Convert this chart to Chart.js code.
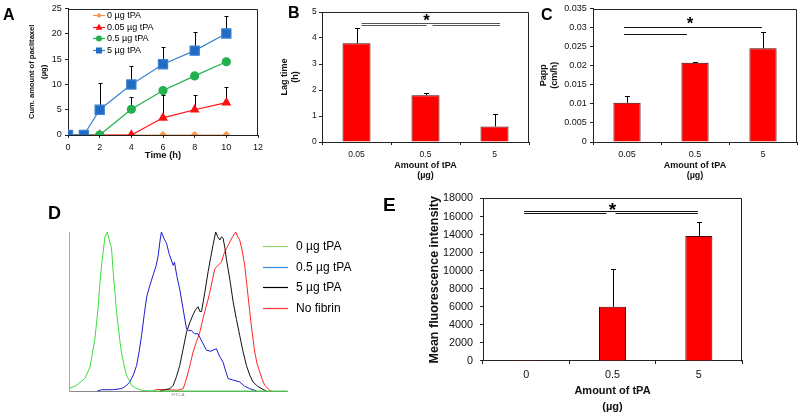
<!DOCTYPE html>
<html><head><meta charset="utf-8">
<script src="https://cdn.jsdelivr.net/npm/chart.js@4.4.1/dist/chart.umd.min.js"></script>
<style>
html,body{margin:0;padding:0;background:#fff;}
#wrap{position:relative;width:800px;height:415px;overflow:hidden;font-family:"Liberation Sans",Arial,sans-serif;}
canvas{position:absolute;display:block;}
.lbl{position:absolute;font-weight:bold;line-height:1;color:#000;font-family:"Liberation Sans",Arial,sans-serif;}
</style></head><body>
<div id="wrap">
  <canvas id="cA" width="270" height="180" style="left:0;top:0"></canvas>
  <canvas id="cB" width="270" height="185" style="left:270px;top:0"></canvas>
  <canvas id="cC" width="270" height="185" style="left:530px;top:0"></canvas>
  <canvas id="cD" width="430" height="225" style="left:0;top:190px"></canvas>
  <canvas id="cE" width="380" height="230" style="left:420px;top:185px"></canvas>
  <div class="lbl" style="left:3px;top:7px;font-size:16px">A</div>
  <div class="lbl" style="left:288px;top:5px;font-size:16px">B</div>
  <div class="lbl" style="left:541px;top:7px;font-size:16px">C</div>
  <div class="lbl" style="left:48px;top:204px;font-size:18px">D</div>
  <div class="lbl" style="left:383px;top:195px;font-size:19px">E</div>
</div>
<script>
// ---------- data ----------
const timeH = [0, 1, 2, 4, 6, 8, 10];
const seriesA = ['0 µg tPA', '0.05 µg tPA', '0.5 µg tPA', '5 µg tPA'];
const cum0   = [0, 0, 0, 0, 0, 0, 0];
const cum005 = [0, 0, 0, 0, 3.4, 5.0, 6.4];
const cum05  = [0, 0, 0, 5.1, 8.8, 11.7, 14.5];
const cum5   = [0, 0, 5.0, 10.0, 14.0, 16.7, 20.1];
const errCum005 = [0, 0, 0, 0, 4.5, 3.0, 3.2];
const errCum05  = [0, 0, 0, 2.5, 0, 0, 0];
const errCum5   = [0, 0, 5.2, 3.6, 3.4, 3.6, 3.5];

const doseBC = ['0.05', '0.5', '5'];
const lagTime = [3.8, 1.8, 0.6];
const lagErr  = [0.58, 0.07, 0.47];
const papp    = [0.0103, 0.0208, 0.0246];
const pappErr = [0.0017, 0.0003, 0.0042];

const doseE  = ['0', '0.5', '5'];
const mfi    = [100, 6000, 13850];
const mfiErr = [0, 4150, 1550];

const histLabels = ['0 µg tPA', '0.5 µg tPA', '5 µg tPA', 'No fibrin'];
const histNoTPA = [[0,1.5],[3.5,3.6],[7.3,8],[9.6,15],[11.9,33],[13.4,53],[14.2,68],[15.0,80],[16.5,97],[17.6,100],[18.8,93],[19.5,90],[20.3,74],[21.1,62],[21.8,50],[23.4,31],[24.1,24],[25.6,14],[26.4,10],[28.7,3.6],[31.0,1.5],[34.0,0.3],[40,0],[60,0],[80,0],[100,0]];
const hist05 = [[13,0],[15,0.8],[20,0.8],[24.1,1.5],[26,3],[27.9,5.7],[29.5,10],[31.0,16],[32.2,25],[33.3,35],[34.5,48],[35.6,59],[37,66],[38.6,73],[40.0,79],[40.9,85],[41.8,95],[42.4,100],[43.5,96],[44.7,93],[46,86],[47.8,79],[48.4,81],[49.5,72],[50.8,64],[52.3,52],[53.9,39],[55,38],[56.2,38],[57.5,36],[59.2,36],[61,31],[63.1,25.6],[65,25],[67.6,26.6],[69,22],[70.7,18],[72,12],[73.0,7.8],[75,7],[78.3,5.7],[80.5,3],[82.9,1.5],[86.0,0]];
const hist5 = [[41.7,0],[46.3,1.5],[47.8,3.6],[49.3,9],[50.8,16],[52.3,26],[53.9,37],[55.4,43],[56.9,48],[58,51],[59.2,53],[60.0,50],[60.8,50],[62.3,62],[63.8,75],[65,84],[66.1,92],[67.3,100],[68.2,97],[69.2,95],[70.0,97],[70.7,96],[71.5,90],[72.2,83],[73.8,70],[75.3,56],[76.8,45],[78.3,35],[79.8,25],[81.4,16],[82.9,10],[84.4,5.7],[86.5,3],[89.0,1],[90.5,0]];
const histNoFibrin = [[38.6,0],[40.2,1],[44.7,0.8],[50,0.5],[52.4,1.5],[53.5,6],[54.7,12],[55.8,18],[56.9,24.5],[58.5,31],[60.0,37],[61.2,44],[62.3,50],[63.5,56],[64.6,62],[65.8,70],[66.9,77],[68.4,79],[69.9,81],[71,86],[72.2,89.5],[73.5,93],[75,97],[76.5,100],[77.4,97],[78.3,95],[79.5,88],[80.6,79],[81.8,64],[82.9,50],[84,37],[85.2,24.5],[86.3,17],[87.5,12],[88.7,7],[89.8,3.6],[92.1,0.4],[93,0]];

// significance annotations (category index, value)
const sigB = [{from:0,to:2,y:4.58,dx0:5,dx1:5.5},{from:0,to:1,y:4.5,dx0:5,dx1:1},{from:1,to:2,y:4.5,dx0:7,dx1:5.5}];
const starB = {x:1, y:4.82, dx:1};
const sigC = [{from:0,to:2,y:0.0302,dx0:-3,dx1:-1},{from:0,to:1,y:0.0284,dx0:-3,dx1:-8}];
const starC = {x:1, y:0.0321, dx:-5};
const sigE = [{from:0,to:2,y:16636,dx0:-2,dx1:-1},{from:0,to:1,y:16340,dx0:-2,dx1:-6},{from:1,to:2,y:16340,dx0:3,dx1:-1}];
const starE = {x:1, y:17227, dx:0};

// ---------- setup ----------
const FONT = '"Liberation Sans", Arial, sans-serif';
Chart.defaults.font.family = FONT;
Chart.defaults.color = '#111';

function drawErr(c, o) {
  const ctx = c.ctx, ys = c.scales.y;
  ctx.save(); ctx.strokeStyle = '#000'; ctx.lineWidth = 1;
  c.data.datasets.forEach((ds, di) => {
    if (!ds.errUp) return;
    const meta = c.getDatasetMeta(di);
    meta.data.forEach((el, i) => {
      const e = ds.errUp[i]; if (!e) return;
      const d = ds.data[i]; const v = (typeof d === 'object') ? d.y : d;
      const x = Math.round(el.x) + 0.5;
      const y0 = ys.getPixelForValue(v), y1 = Math.round(ys.getPixelForValue(v + e)) + 0.5;
      ctx.beginPath(); ctx.moveTo(x, y0); ctx.lineTo(x, y1);
      ctx.moveTo(x - o.cap, y1); ctx.lineTo(x + o.cap, y1); ctx.stroke();
    });
  });
  ctx.restore();
}
const errPlugin = { id: 'errbars',
  beforeDatasetsDraw(c, a, o) { if (o.under) drawErr(c, o); },
  afterDatasetsDraw(c, a, o) { if (!o.under) drawErr(c, o); } };

const framePlugin = { id: 'frame', afterDraw(c, a, o) {
  if (!o.on) return; const {left, top, right, bottom} = c.chartArea; const ctx = c.ctx;
  ctx.save(); ctx.strokeStyle = '#222'; ctx.lineWidth = 1;
  ctx.beginPath(); ctx.moveTo(Math.round(left)+0.5, Math.round(top)+0.5); ctx.lineTo(Math.round(right)-0.5, Math.round(top)+0.5);
  ctx.lineTo(Math.round(right)-0.5, Math.round(bottom)+0.5); ctx.stroke(); ctx.restore(); } };

const sigPlugin = { id: 'sig', afterDatasetsDraw(c, a, o) {
  if (!o.lines) return; const ctx = c.ctx, xs = c.scales.x, ys = c.scales.y;
  ctx.save(); ctx.strokeStyle = o.color; ctx.lineWidth = 1;
  o.lines.forEach(l => {
    const x0 = xs.getPixelForValue(l.from) + (l.dx0 || 0), x1 = xs.getPixelForValue(l.to) + (l.dx1 || 0);
    const y = Math.round(ys.getPixelForValue(l.y)) + 0.5;
    ctx.beginPath(); ctx.moveTo(x0, y); ctx.lineTo(x1, y); ctx.stroke();
  });
  ctx.fillStyle = '#000'; ctx.font = 'bold ' + o.size + 'px ' + FONT; ctx.textAlign = 'center'; ctx.textBaseline = 'alphabetic';
  ctx.fillText('*', xs.getPixelForValue(o.star.x) + (o.star.dx || 0), ys.getPixelForValue(o.star.y) + 0.57 * o.size);
  ctx.restore(); } };

function marker(ctx, style, x, y, r) {
  ctx.beginPath();
  if (style === 'circle') ctx.arc(x, y, r, 0, Math.PI * 2);
  else if (style === 'rect') ctx.rect(x - r, y - r, 2 * r, 2 * r);
  else if (style === 'triangle') { ctx.moveTo(x, y - r * 1.15); ctx.lineTo(x + r, y + r * 0.65); ctx.lineTo(x - r, y + r * 0.65); ctx.closePath(); }
  else if (style === 'rectRot') { ctx.moveTo(x, y - r); ctx.lineTo(x + r, y); ctx.lineTo(x, y + r); ctx.lineTo(x - r, y); ctx.closePath(); }
  ctx.fill();
}
const legendPlugin = { id: 'lineLegend', afterDraw(c, a, o) {
  if (!o.x) return; const ctx = c.ctx; ctx.save();
  ctx.font = o.size + 'px ' + FONT; ctx.textBaseline = 'middle'; ctx.textAlign = 'left';
  c.data.datasets.forEach((ds, i) => {
    const y = Math.round(o.y + i * o.dy) + 0.5;
    const col = o.colors ? o.colors[i] : ds.borderColor;
    ctx.strokeStyle = col; ctx.lineWidth = o.lw || 1;
    ctx.beginPath(); ctx.moveTo(o.x, y); ctx.lineTo(o.x + o.len, y); ctx.stroke();
    if (o.markers) { ctx.fillStyle = ds.backgroundColor; marker(ctx, ds.pointStyle, o.x + o.len / 2, y, o.markers[i]); }
    ctx.fillStyle = '#000'; ctx.fillText(ds.label, o.x + o.len + o.gap, y + 0.5);
  });
  ctx.restore(); } };

const pts = arr => timeH.map((t, i) => ({x: t, y: arr[i]}));
const xy = arr => arr.map(p => ({x: p[0], y: p[1]}));
const AX = '#222';

// ---------- Panel A ----------
new Chart(document.getElementById('cA'), {
  type: 'line',
  data: { datasets: [
    {label: seriesA[0], data: pts(cum0), borderColor: '#f7964a', backgroundColor: '#f7964a', pointStyle: 'rectRot', pointRadius: 3.2, borderWidth: 1.2, order: 4},
    {label: seriesA[1], data: pts(cum005), errUp: errCum005, borderColor: '#ff1010', backgroundColor: '#ff1010', pointStyle: 'triangle', pointRadius: 4.5, borderWidth: 1.2, order: 3},
    {label: seriesA[2], data: pts(cum05), errUp: errCum05, borderColor: '#22b14c', backgroundColor: '#22b14c', pointStyle: 'circle', pointRadius: 4, borderWidth: 1.2, order: 2},
    {label: seriesA[3], data: pts(cum5), errUp: errCum5, borderColor: '#3a82cf', backgroundColor: '#1f6cc4', pointStyle: 'rect', pointRadius: 6.5, borderWidth: 1.2, order: 1}
  ]},
  options: { responsive: false, animation: false, events: [],
    layout: {padding: {top: 5, right: 12, left: 0, bottom: 0}},
    elements: {line: {tension: 0}, point: {borderWidth: 0}},
    plugins: { legend: {display: false}, tooltip: {enabled: false},
      errbars: {cap: 2, under: true}, frame: {on: true},
      lineLegend: {x: 93, y: 15, dy: 11.6, len: 12, gap: 2, size: 9, lw: 1.2, markers: [2.6, 3.4, 3, 3]} },
    scales: {
      x: { type: 'linear', min: 0, max: 12, ticks: {stepSize: 2, font: {size: 9}, padding: 4.5},
        grid: {drawOnChartArea: false, tickLength: 3, color: AX}, border: {color: AX},
        title: {display: true, text: 'Time (h)', font: {size: 9.4, weight: 'bold', lineHeight: 1.2}, padding: {top: 0, bottom: 18.6}},
        afterFit: s => { s.height = 45; } },
      y: { min: 0, max: 25, ticks: {stepSize: 5, font: {size: 9}, padding: 3.3},
        grid: {drawOnChartArea: false, tickLength: 3, color: AX}, border: {color: AX},
        title: {display: true, text: ['Cum. amount of paclitaxel', '(µg)'], font: {size: 7.6, weight: 'bold', lineHeight: 1.62}, padding: {top: 25.5, bottom: 0}},
        afterFit: s => { s.width = 68; } }
    } },
  plugins: [errPlugin, framePlugin, legendPlugin]
});

// ---------- bar panels ----------
function barChart(id, labels, values, errs, o) {
  return new Chart(document.getElementById(id), {
    type: 'bar',
    data: { labels: labels, datasets: [{ label: o.label, data: values, errUp: errs,
      backgroundColor: '#ff0000', borderColor: '#4a0000', borderWidth: 1, borderSkipped: 'bottom',
      barPercentage: o.bp, categoryPercentage: 1 }] },
    options: { responsive: false, animation: false, events: [],
      layout: {padding: o.pad},
      plugins: { legend: {display: false}, tooltip: {enabled: false},
        errbars: {cap: o.cap}, frame: {on: true},
        sig: {lines: o.sig, star: o.star, color: o.sigColor, size: o.starSize} },
      scales: {
        x: { grid: {drawOnChartArea: false, tickLength: 3, color: AX, offset: true}, border: {color: AX},
          ticks: {font: {size: o.tf}, padding: o.xtp},
          title: {display: true, text: ['Amount of tPA', '(µg)'], font: {size: o.xf, weight: 'bold', lineHeight: o.xlh}, padding: {top: 0, bottom: o.xpb}},
          afterFit: s => { s.height = o.xh; } },
        y: { min: 0, max: o.max,
          ticks: {stepSize: o.step, font: {size: o.tf}, padding: o.ytp, callback: o.cb},
          grid: {drawOnChartArea: false, tickLength: 3, color: AX}, border: {color: AX},
          title: {display: true, text: o.ytitle, font: {size: o.yf, weight: 'bold', lineHeight: o.ylh}, padding: {top: o.ypt, bottom: 0}},
          afterFit: s => { s.width = o.yw; } }
      } },
    plugins: [errPlugin, sigPlugin, framePlugin]
  });
}

barChart('cB', doseBC, lagTime, lagErr, {
  label: 'Lag time', bp: 0.406, cap: 2.5, pad: {top: 12, right: 11, left: 0, bottom: 0},
  sig: sigB, star: starB, sigColor: '#555', starSize: 17,
  tf: 8.5, xtp: 4.5, xf: 9, xlh: 1.17, xpb: 3.8, xh: 43,
  max: 5, step: 0.5, ytp: 2.3, cb: undefined,
  ytitle: ['Lag time', '(h)'], yf: 9, ylh: 1.22, ypt: 9.5, yw: 52 });

barChart('cC', doseBC, papp, pappErr, {
  label: 'Papp', bp: 0.40, cap: 2.5, pad: {top: 7, right: 3, left: 0, bottom: 0},
  sig: sigC, star: starC, sigColor: '#111', starSize: 17,
  tf: 9, xtp: 4.3, xf: 9, xlh: 1.17, xpb: 3.8, xh: 43,
  max: 0.035, step: 0.005, ytp: 3.3, cb: undefined,
  ytitle: ['Papp', '(cm/h)'], yf: 9, ylh: 1.3, ypt: 7.4, yw: 63 });

barChart('cE', doseE, mfi, mfiErr, {
  label: 'Mean fluorescence intensity', bp: 0.313, cap: 2.5, pad: {top: 13, right: 58, left: 0, bottom: 0},
  sig: sigE, star: starE, sigColor: '#111', starSize: 19,
  tf: 10.8, xtp: 5, xf: 11, xlh: 1.46, xpb: 0, xh: 54,
  max: 18000, step: 2000, ytp: 7, cb: v => String(v),
  ytitle: 'Mean fluorescence intensity', yf: 12.5, ylh: 1.2, ypt: 7.5, yw: 63 });

// ---------- Panel D ----------
new Chart(document.getElementById('cD'), {
  type: 'line',
  data: { datasets: [
    {label: histLabels[0], data: xy(histNoTPA), borderColor: '#3ddc3d'},
    {label: histLabels[1], data: xy(hist05), borderColor: '#1c1cd2'},
    {label: histLabels[2], data: xy(hist5), borderColor: '#111111'},
    {label: histLabels[3], data: xy(histNoFibrin), borderColor: '#ff2424'}
  ]},
  options: { responsive: false, animation: false, events: [],
    layout: {padding: {top: 42, right: 143, left: 69, bottom: 0}},
    elements: {line: {tension: 0, borderWidth: 1}, point: {radius: 0}},
    datasets: {line: {clip: false}},
    plugins: { legend: {display: false}, tooltip: {enabled: false},
      lineLegend: {x: 263, y: 56, dy: 20.7, len: 25, gap: 8, size: 12, lw: 1.2,
        colors: ['#9ad06a', '#3a8ee6', '#000000', '#ff3333']} },
    scales: {
      x: { type: 'linear', min: 0, max: 100, ticks: {display: false},
        grid: {display: false}, border: {color: '#888'},
        title: {display: true, text: 'FITC-A', color: '#888', font: {size: 4, lineHeight: 1.2}, padding: {top: 0, bottom: 17.6}},
        afterFit: s => { s.height = 24; } },
      y: { min: 0, max: 100, ticks: {display: false}, grid: {display: false}, border: {color: '#aaa'},
        afterFit: s => { s.width = 0; } }
    } },
  plugins: [legendPlugin]
});
</script>
</body></html>
